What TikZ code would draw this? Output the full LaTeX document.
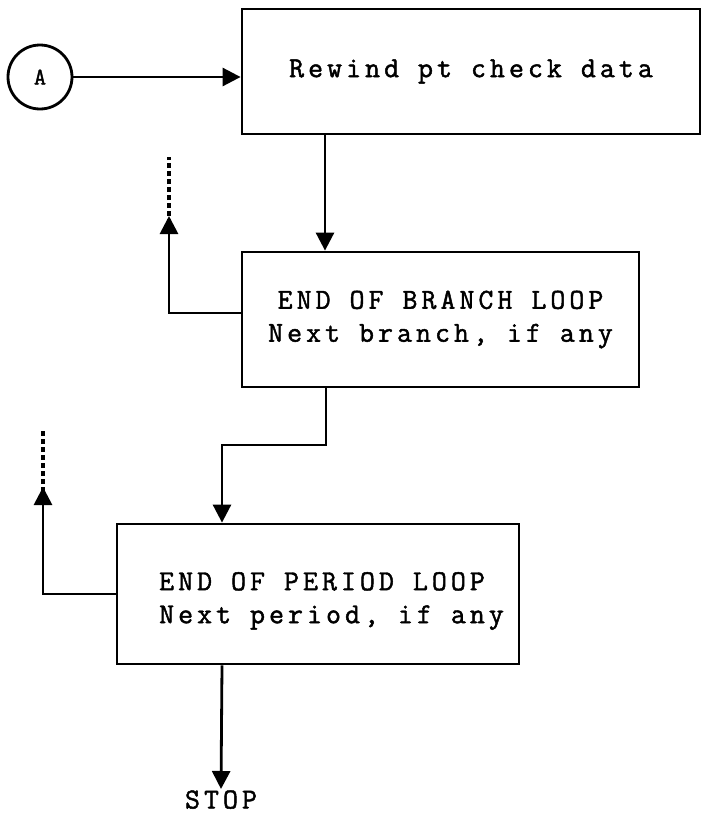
\documentclass[tikz,border=0pt]{standalone}
\usepackage{fontspec}
\newfontfamily\twfont{Latin Modern Mono}[LetterSpace=14,FakeBold=1.6]
\usetikzlibrary{arrows.meta}
\begin{document}
\begin{tikzpicture}[x=1pt,y=-1pt,
  line width=2.8pt,
  boxnode/.style={draw,rectangle,inner sep=0pt,align=center,font=\twfont\fontsize{29}{33}\selectfont},
  conn/.style={-{Triangle[width=18pt,length=18pt]}},
  dashline/.style={dash pattern=on 5pt off 3pt,line width=3.4pt},
  lbl/.style={font=\twfont\fontsize{29}{33}\selectfont,inner sep=0pt}]
\useasboundingbox (0,0) rectangle (703,814);
% nodes
\node[draw,circle,minimum size=64pt,inner sep=0pt,font=\twfont\fontsize{24}{26}\selectfont] (A) at (40,77) {A};
\node[boxnode,minimum width=458pt,minimum height=125pt] (box1) at (471,71.5) {Rewind pt check data};
\node[boxnode,minimum width=397pt,minimum height=135pt] (box2) at (440.5,319.5) {END OF BRANCH LOOP\\Next branch, if any};
\node[boxnode,minimum width=402pt,minimum height=140pt] (box3) at (318,594) {};
\node[lbl,align=center] (t3) at (322,601) {END OF PERIOD LOOP\\\ Next period, if any};
\node[lbl,anchor=north] (stop) at (221,789) {STOP};
% coordinates
\coordinate (d1) at (325,0);
\coordinate (c1) at (326,445);
\coordinate (c2) at (222,445);
\coordinate (l2a) at (169,313);
\coordinate (l2b) at (169,216);
\coordinate (l2c) at (169,157);
\coordinate (l3a) at (43,594);
\coordinate (l3b) at (43,487);
\coordinate (l3c) at (43,430);
% connectors
\draw[conn] (A.east) -- (box1.west |- A.east);
\draw[conn] (box1.south -| d1) -- (box2.north -| d1);
\draw[conn] (box2.south -| c1) -- (c1) -- (c2) -- (box3.north -| c2);
\draw[conn] (box2.west |- l2a) -- (l2a) -- (l2b);
\draw[dashline] ([yshift=-8pt]l2b) -- (l2c);
\draw[conn] (box3.west |- l3a) -- (l3a) -- (l3b);
\draw[dashline] ([yshift=-5pt]l3b) -- (l3c);
\draw[conn] (box3.south -| c2) -- (stop.north);
\end{tikzpicture}
\end{document}
